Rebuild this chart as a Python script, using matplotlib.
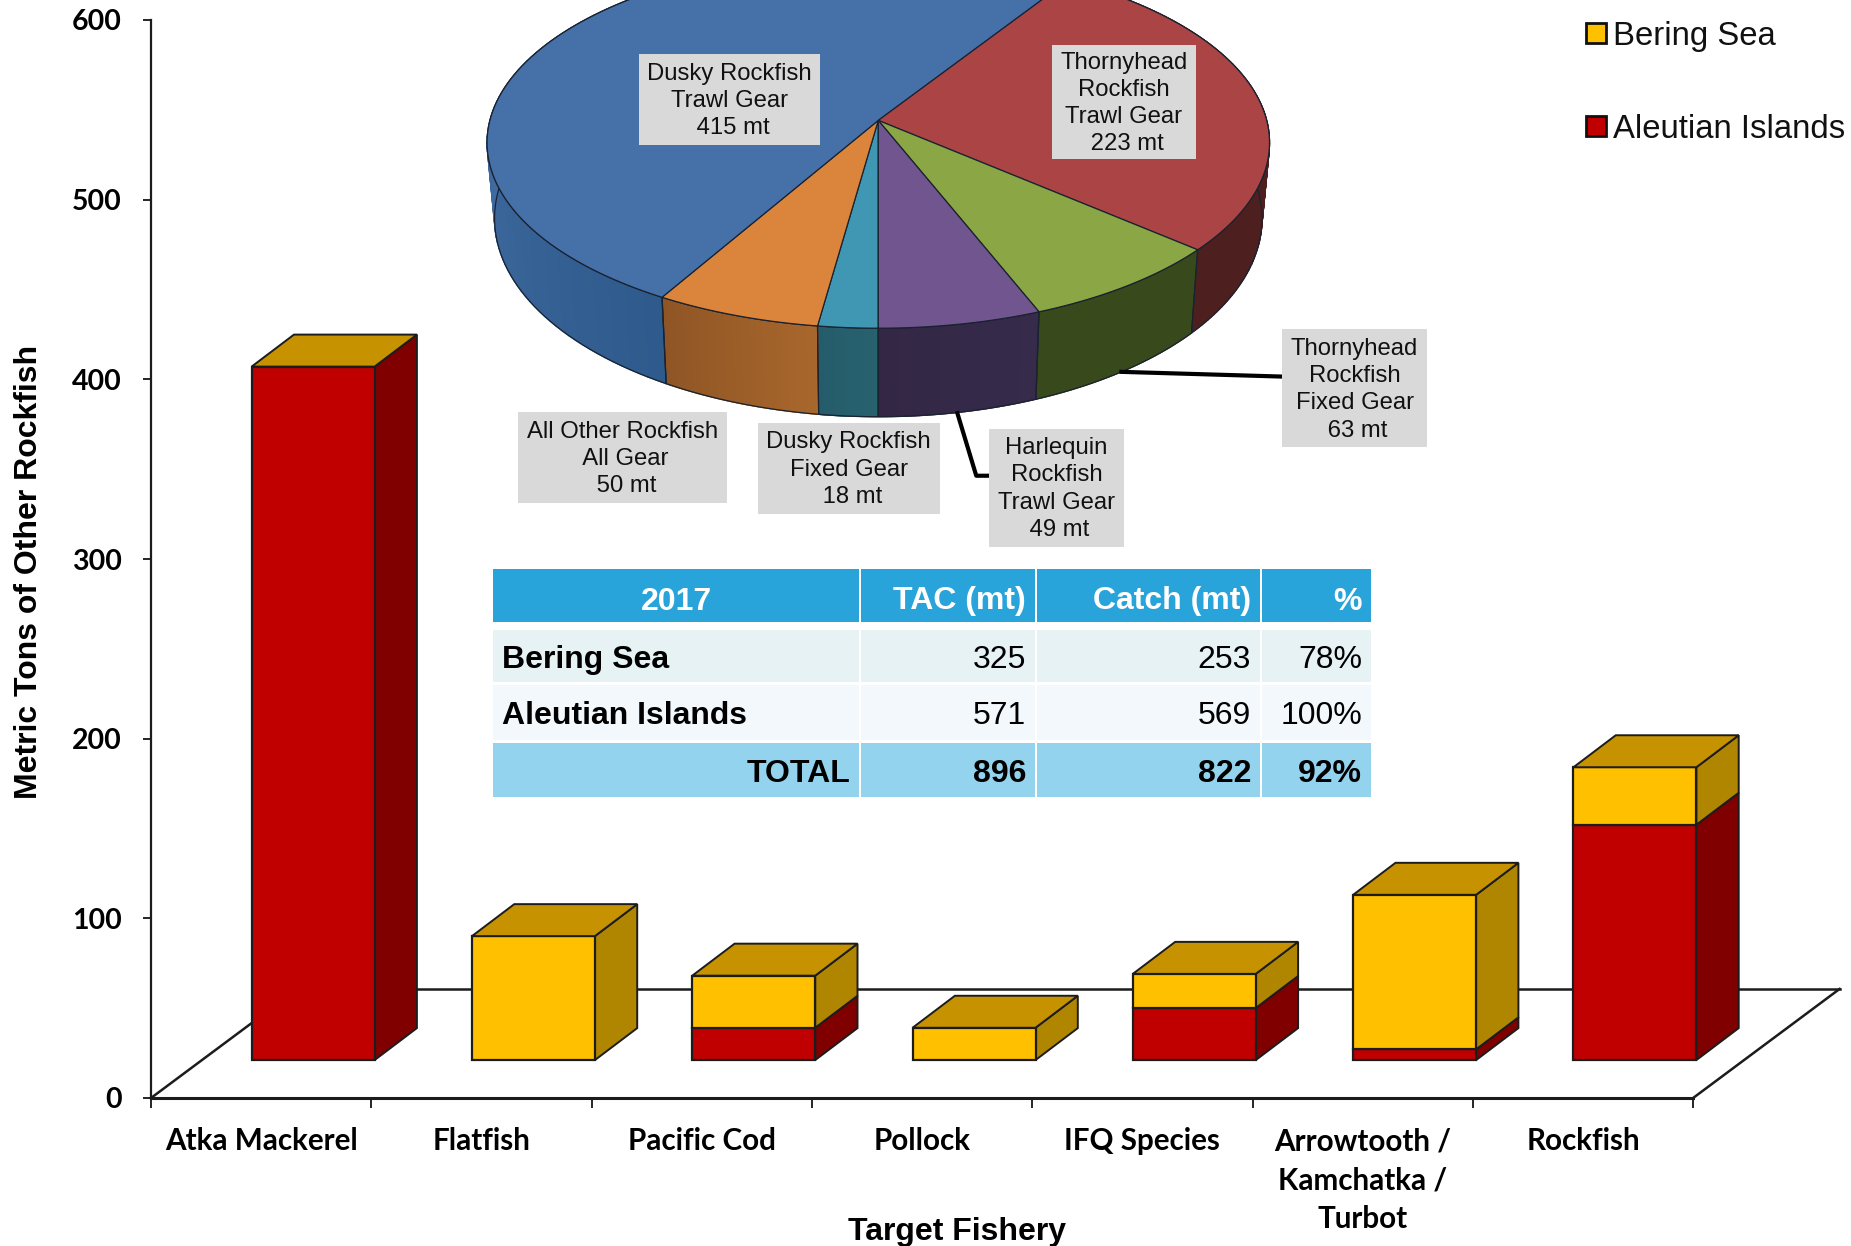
import numpy as np
import matplotlib
matplotlib.use('Agg')
import matplotlib.pyplot as plt
from matplotlib.colors import to_rgb
from matplotlib.patches import Polygon, Rectangle

# Balken
kategorien = ['Atka Mackerel', 'Flatfish', 'Pacific Cod', 'Pollock', 'IFQ Species',
              'Arrowtooth /\nKamchatka /\nTurbot', 'Rockfish']
aleutian = [386, 0, 18, 0, 29, 6, 131]
bering = [0, 69, 29, 18, 19, 86, 32]
y_ticks = [0, 100, 200, 300, 400, 500, 600]

# Torte, ab 6 Uhr im Uhrzeigersinn
pie_mt = [18, 50, 415, 223, 63, 49]
pie_top = ['#3f97b4', '#db843c', '#4570a8', '#ab4545', '#8aa645', '#71558f']
pie_side = [('#27626f', '#255c6b'), ('#a8672c', '#8f5525'), ('#2f5a8c', '#4672a9'),
            ('#4d1f1f', '#4d1f1f'), ('#38491c', '#38491c'), ('#372b4c', '#332745')]
pie_side_span = [18, 50, 190, 223, 63, 49]

# Tabelle
tab_kopf = ['2017', 'TAC (mt)', 'Catch (mt)', '%']
tab_bering = ['Bering Sea', '325', '253', '78%']
tab_aleutian = ['Aleutian Islands', '571', '569', '100%']
tab_total = ['TOTAL', '896', '822', '92%']

B, H = 1851, 1246
S = B / 1568.
GELB, GELB_S, GELB_O = '#ffc000', '#b08600', '#c69200'
ROT, ROT_S = '#c00000', '#800000'
LINIE = '#1c1c1c'

plt.rcParams['font.family'] = ['Liberation Sans', 'DejaVu Sans']

fig = plt.figure(figsize=(B / 100., H / 100.), dpi=100)
ax = fig.add_axes([151. / B, (H - 1098.) / H, 7 * 220.3 / B, 1078. / H])
ax.set_xlim(0, 7)
ax.set_ylim(0, 600)

# Tiefe in Datenkoordinaten
boden_dx, boden_dy = 0.665, 60.7
balken_b = 0.558
balken_x, balken_y = 0.457, 21.1
tiefe_x, tiefe_y = 0.192, 17.8

for x0, y0, x1, y1 in ((0, 0, boden_dx, boden_dy),
                       (boden_dx, boden_dy, 7 + boden_dx, boden_dy),
                       (7, 0, 7 + boden_dx, boden_dy)):
    ax.plot([x0, x1], [y0, y1], color=LINIE, lw=1.8, clip_on=False, zorder=1)


def quader(links, unten, hoehe, front, seite):
    rechts = links + balken_b
    oben = unten + hoehe
    ax.add_patch(Polygon([(rechts, unten), (rechts + tiefe_x, unten + tiefe_y),
                          (rechts + tiefe_x, oben + tiefe_y), (rechts, oben)],
                         fc=seite, ec=LINIE, lw=1.4, zorder=3, clip_on=False))
    ax.bar(links, hoehe, balken_b, bottom=unten, align='edge', color=front,
           edgecolor=LINIE, linewidth=1.6, zorder=4, clip_on=False)


for i, (rot, gelb) in enumerate(zip(aleutian, bering)):
    links = i + balken_x
    if rot > 0:
        quader(links, balken_y, rot, ROT, ROT_S)
    if gelb > 0:
        quader(links, balken_y + rot, gelb, GELB, GELB_S)
    oben = balken_y + rot + gelb
    ax.add_patch(Polygon([(links, oben), (links + balken_b, oben),
                          (links + balken_b + tiefe_x, oben + tiefe_y),
                          (links + tiefe_x, oben + tiefe_y)],
                         fc=GELB_O, ec=LINIE, lw=1.4, zorder=5, clip_on=False))

for s in ('top', 'right'):
    ax.spines[s].set_visible(False)
ax.spines['left'].set_linewidth(1.6)
ax.spines['bottom'].set_linewidth(2.2)
ax.spines['left'].set_color(LINIE)
ax.spines['bottom'].set_color(LINIE)

ax.set_yticks(y_ticks)
ax.set_yticklabels([str(v) for v in y_ticks], family=['Lato', 'DejaVu Sans'],
                   fontweight='bold', fontsize=20.5)
ax.tick_params(axis='y', length=6, width=1.2, pad=15)
ax.set_xticks(np.arange(8))
ax.set_xticklabels([])
ax.tick_params(axis='x', which='major', length=7, width=1.2)
ax.set_xticks(np.arange(7) + 0.5, minor=True)
ax.set_xticklabels(kategorien, minor=True, family=['Lato', 'DejaVu Sans'],
                   fontweight='bold', fontsize=21.3, linespacing=1.48)
ax.tick_params(axis='x', which='minor', length=0, pad=21)

ax.set_ylabel('Metric Tons of Other Rockfish', fontweight='bold', fontsize=23, va='center')
ax.yaxis.set_label_coords((29. - 151) / (7 * 220.3), (1098. - 572) / 1078)
ax.set_xlabel('Target Fishery', fontweight='bold', fontsize=23, va='center')
ax.xaxis.set_label_coords((957. - 151) / (7 * 220.3), (1098. - 1232) / 1078)

# Alles weitere in Pixeln, y nach unten
ov = fig.add_axes([0, 0, 1, 1], facecolor='none')
ov.set_xlim(0, B)
ov.set_ylim(H, 0)
ov.axis('off')

# Torte: perspektivisch projizierter Kreis
k = 0.12
mitte = 744 * S


def deckel(t):
    u, v = np.cos(t), np.sin(t)
    n = 1 + k * v
    return np.column_stack((mitte + 329 * S * u / n, (102 - 154.9 * v / n) * S))


def boden(t):
    u, v = np.cos(t), np.sin(t)
    n = 1 + k * v
    return np.column_stack((mitte + 322.7 * S * u / n, (164.8 - 165.6 * v / n) * S))


gesamt = float(sum(pie_mt))
winkel = np.radians(np.cumsum([0] + pie_mt) / gesamt * 360.)
for i in range(len(pie_mt)):
    t = -np.pi / 2 - np.linspace(winkel[i], winkel[i + 1], 120)
    c0, c1 = np.array(to_rgb(pie_side[i][0])), np.array(to_rgb(pie_side[i][1]))
    anteil = np.clip((-np.pi / 2 - t - winkel[i]) / np.radians(pie_side_span[i] / gesamt * 360.), 0, 1)
    for j in range(len(t) - 1):
        farbe = c0 + (c1 - c0) * anteil[j]
        ov.add_patch(Polygon(np.vstack((deckel(t[j:j + 2]), boden(t[j:j + 2])[::-1])),
                             fc=farbe, ec=farbe, lw=1.0, zorder=2))
    ov.add_patch(Polygon(np.vstack((deckel(t), boden(t)[::-1])),
                         fc='none', ec='#1a2230', lw=0.9, zorder=3))
for i in range(len(pie_mt)):
    t = -np.pi / 2 - np.linspace(winkel[i], winkel[i + 1], 240)
    ov.add_patch(Polygon(np.vstack(([[mitte, 102 * S]], deckel(t))),
                         fc=pie_top[i], ec='#1a2230', lw=0.9, zorder=4))

# Beschriftungen der Torte
boxen = [
    (541, 695, 46, 123, 'Dusky Rockfish\nTrawl Gear\n 415 mt'),
    (891, 1013, 38, 135, 'Thornyhead\nRockfish\nTrawl Gear\n 223 mt'),
    (439, 616, 349, 426, 'All Other Rockfish\n All Gear\n 50 mt'),
    (642, 796, 358, 435, 'Dusky Rockfish\nFixed Gear\n 18 mt'),
    (838, 952, 363, 463, 'Harlequin\nRockfish\nTrawl Gear\n 49 mt'),
    (1086, 1209, 279, 379, 'Thornyhead\nRockfish\nFixed Gear\n 63 mt'),
]
ov.plot(np.array([950, 1086]) * S, np.array([315, 319]) * S, color='k', lw=3, zorder=5)
ov.plot(np.array([811, 827, 838]) * S, np.array([350, 403, 403]) * S, color='k', lw=3, zorder=5)
for x0, x1, y0, y1, txt in boxen:
    ov.add_patch(Rectangle((x0 * S, y0 * S), (x1 - x0) * S, (y1 - y0) * S,
                           fc='#d9d9d9', ec='none', zorder=6))
    ov.text((x0 + x1) / 2. * S, (y0 + y1) / 2. * S + 1.5, txt, ha='center', va='center',
            fontsize=17.2, linespacing=1.3, color='#111111', zorder=7)

# Tabelle
spalten = [(493, 859), (861, 1035), (1037, 1260), (1262, 1371)]
zeilen = [(569, 622, '#29a4da', tab_kopf, 'white', 'bold'),
          (630, 682, '#e6f2f4', tab_bering, 'black', 'normal'),
          (685, 740, '#f2f8fb', tab_aleutian, 'black', 'normal'),
          (743, 797, '#93d3ee', tab_total, 'black', 'bold')]
for y0, y1, farbe, texte, tfarbe, gewicht in zeilen:
    for n, (x0, x1) in enumerate(spalten):
        ov.add_patch(Rectangle((x0, y0), x1 - x0, y1 - y0, fc=farbe, ec='none', zorder=6))
        w = gewicht
        ha, tx = 'right', x1 - 9
        if n == 0:
            if texte is tab_kopf:
                ha, tx = 'center', (x0 + x1) / 2.
            elif texte is not tab_total:
                ha, tx, w = 'left', x0 + 9, 'bold'
        dy = 6 if texte is tab_kopf else 4
        ov.text(tx, (y0 + y1) / 2. + dy, texte[n], ha=ha, va='center', fontsize=23,
                color=tfarbe, fontweight=w, zorder=7)

# Legende
for y, farbe, txt in ((33, GELB, 'Bering Sea'), (126, ROT, 'Aleutian Islands')):
    ov.add_patch(Rectangle((1586, y - 10), 20, 20, fc=farbe, ec='#111111', lw=2, zorder=6))
    ov.text(1613, y + 3, txt, ha='left', va='center', fontsize=23.7, color='#111111', zorder=7)

fig.savefig('out.png', dpi=100)
